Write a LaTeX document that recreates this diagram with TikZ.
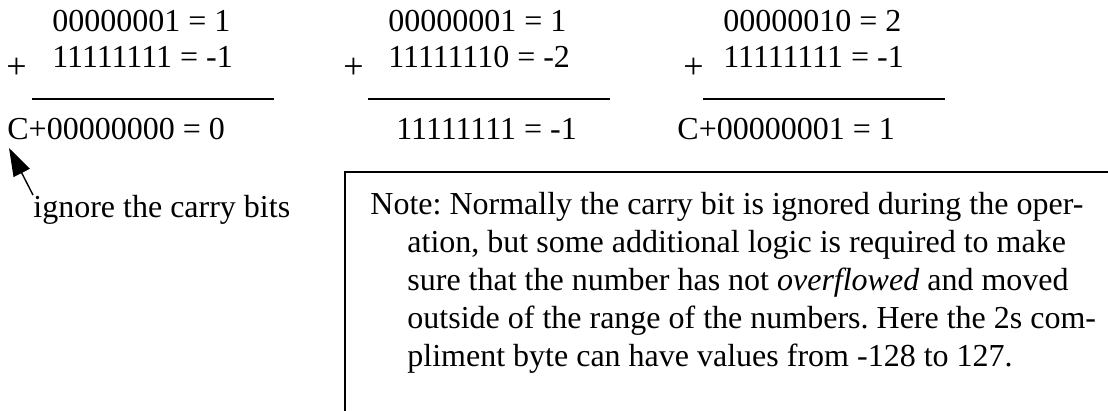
\documentclass[tikz,border=0pt]{standalone}
\usepackage{fontspec}
\setmainfont{Liberation Serif}
\usetikzlibrary{arrows.meta}
\frenchspacing
\begin{document}
\begin{tikzpicture}[x=0.5pt,y=-0.5pt,
  txt/.style={anchor=base west, inner sep=0pt, font=\fontsize{16}{19}\selectfont},
  plus/.style={anchor=base west, inner sep=0pt, font=\fontsize{18}{19}\selectfont},
  sumrule/.style={line width=1pt},
  boxline/.style={line width=1pt},
  pointer/.style={line width=0.7pt, -{Triangle[length=14pt,width=9pt]}}]
\useasboundingbox (0,0) rectangle (1108,411);
% column 1
\node[txt] (a1) at (52,32) {00000001 = 1};
\node[txt] (a2) at (52,68) {11111111 = -1};
\node[plus] (ap) at (6,79) {+};
\coordinate (ar1) at (32,99);
\coordinate (ar2) at (274,99);
\draw[sumrule] (ar1) -- (ar2);
\node[txt] (ar) at (7,140) {C+00000000 = 0};
% column 2
\node[txt] (b1) at (388,32) {00000001 = 1};
\node[txt] (b2) at (388,68) {11111110 = -2};
\node[plus] (bp) at (343,79) {+};
\coordinate (br1) at (368,99);
\coordinate (br2) at (610,99);
\draw[sumrule] (br1) -- (br2);
\node[txt] (br) at (396,140) {11111111 = -1};
% column 3
\node[txt] (c1) at (723,32) {00000010 = 2};
\node[txt] (c2) at (723,68) {11111111 = -1};
\node[plus] (cp) at (683,79) {+};
\coordinate (cr1) at (703,99);
\coordinate (cr2) at (945,99);
\draw[sumrule] (cr1) -- (cr2);
\node[txt] (cr) at (677,140) {C+00000001 = 1};
% pointer
\node[txt] (ign) at (33,218) {ignore the carry bits};
\coordinate (tail) at (33,195);
\coordinate (tip) at (9,148);
\draw[pointer] (tail) -- (tip);
% note box
\coordinate (bxa) at (1108,172);
\coordinate (bxb) at (345,172);
\coordinate (bxc) at (345,411);
\draw[boxline] (bxa) -- (bxb) -- (bxc);
\node[txt] (n1) at (370,215) {Note: Normally the carry bit is ignored during the oper-};
\node[txt] (n2) at (407,252.75) {ation, but some additional logic is required to make};
\node[txt] (n3) at (407,290.5) {sure that the number has not \textit{overflowed} and moved};
\node[txt] (n4) at (407,328.25) {outside of the range of the numbers. Here the 2s com-};
\node[txt] (n5) at (407,366) {pliment byte can have values from -128 to 127.};
\end{tikzpicture}
\end{document}
